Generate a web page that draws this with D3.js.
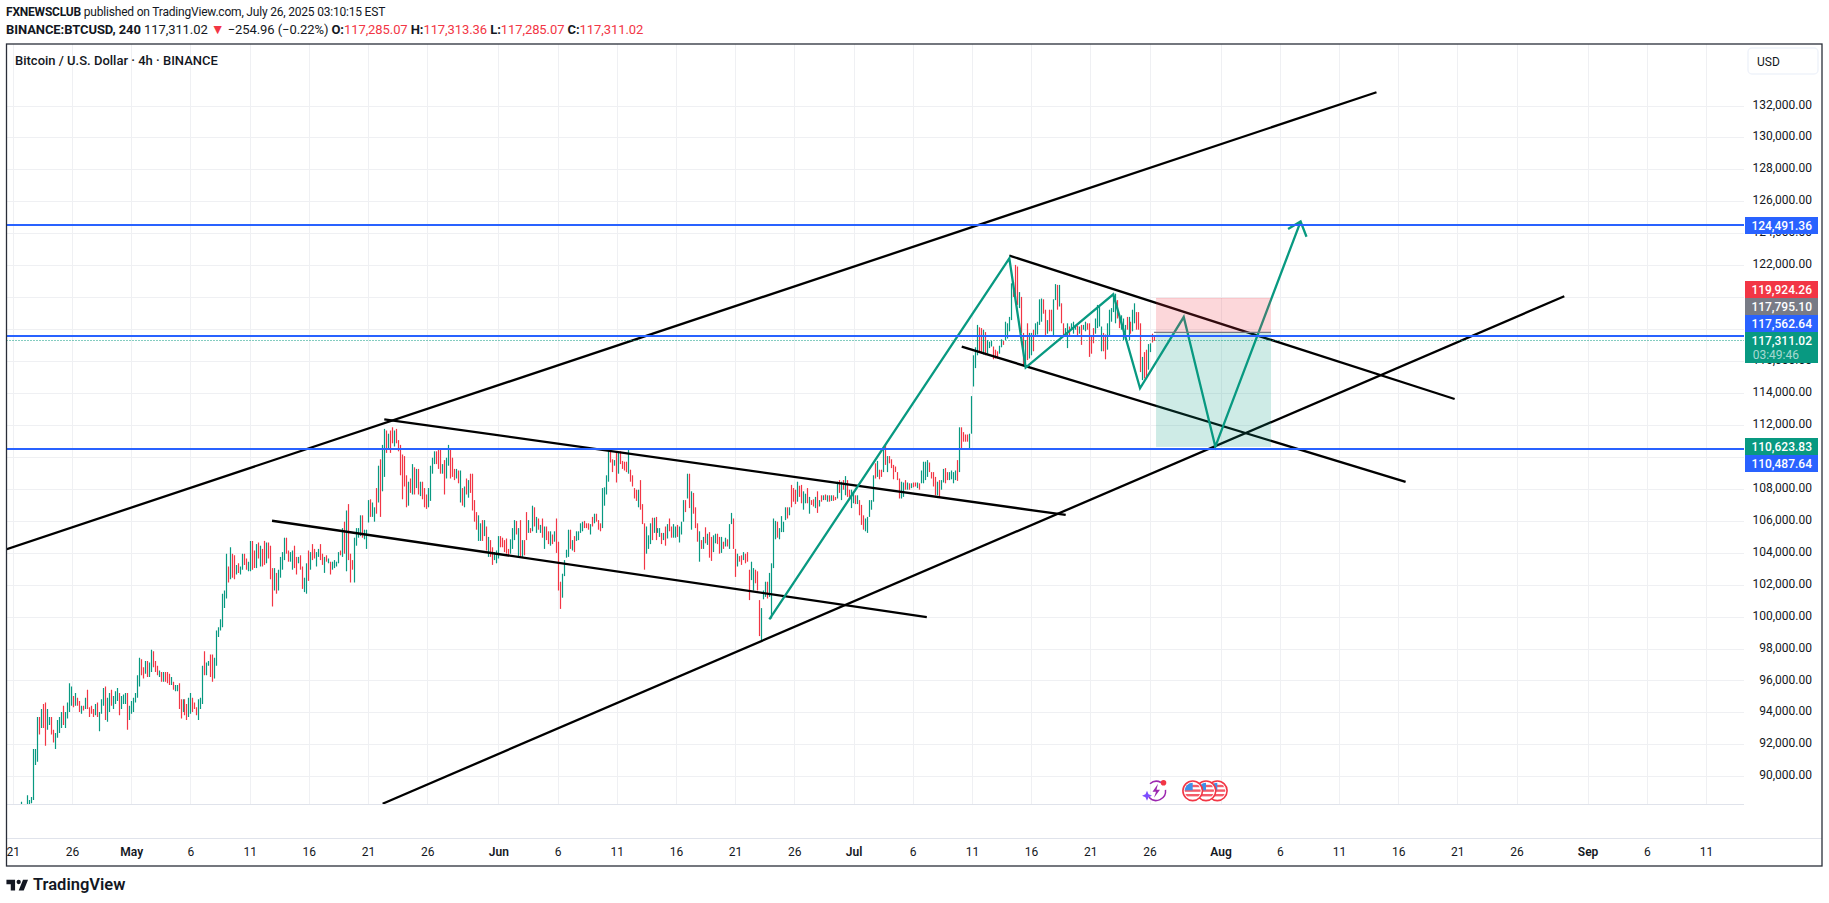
<!DOCTYPE html>
<html><head><meta charset="utf-8">
<script src="https://cdnjs.cloudflare.com/ajax/libs/d3/7.8.5/d3.min.js"></script>
<style>
html,body{margin:0;padding:0;background:#fff;overflow:hidden}
svg{display:block}
text{font-family:Roboto,"Noto Sans",sans-serif}
</style></head><body><svg id="c" width="1829" height="903"></svg>
<script>
// ---------- data: 4h BTC/USD bars, in thousand USD ----------
const firstBar = "2025-04-21T00:00:00Z";
const lastBar = "2025-07-26T10:00:00Z";
const barHighs = [
87.4,87.7,88.0,88.2,
88.5,88.3,88.3,88.9,88.6,88.8,91.8,91.8,93.8,93.8,94.3,94.6,94.7,94.3,93.8,93.8,93.0,92.8,93.6,93.8,94.1,94.5,94.1,94.7,95.9,95.7,95.1,95.3,95.0,94.8,94.5,94.5,95.0,95.5,94.4,94.5,94.3,94.6,94.7,94.1,94.9,95.6,95.7,95.0,95.3,95.5,95.1,95.4,95.6,95.3,95.1,95.2,95.3,95.3,94.5,94.8,95.0,95.3,96.4,97.5,97.4,96.9,97.3,97.3,97.2,98.0,97.9,97.3,97.0,96.7,96.6,96.6,96.6,96.6,96.5,96.3,96.0,95.8,95.8,95.9,94.9,94.9,94.9,94.6,95.0,95.3,95.0,94.7,
94.4,94.9,95.0,97.0,97.9,97.2,97.3,97.7,97.7,97.5,99.2,
99.4,99.9,101.5,101.7,104.0,103.2,104.4,104.0,103.9,103.3,103.4,103.2,104.0,104.0,103.7,103.5,104.8,104.8,104.2,104.6,104.7,104.5,104.3,104.8,104.7,104.7,104.5,103.1,103.1,102.8,103.0,103.8,104.1,105.0,105.0,104.2,104.1,104.2,104.5,103.8,103.8,103.9,103.2,102.5,103.4,104.2,104.1,104.6,104.3,104.1,104.3,104.6,104.0,103.8,103.9,103.7,103.5,103.5,103.6,103.5,104.1,104.2,105.6,106.0,106.7,107.1,104.0,103.6,105.0,105.6,105.6,106.4,106.4,105.5,105.5,
107.35,107.4,107.2,106.9,108.1,109.5,109.9,110.8,111.8,111.7,111.5,111.7,111.9,111.7,111.8,111.1,110.8,110.2,110.1,108.9,108.5,108.7,109.6,109.4,109.3,109.3,108.5,108.5,108.1,107.7,108.1,109.5,110.0,110.4,110.4,110.5,110.6,109.6,109.85,110.0,110.8,110.5,110.0,109.3,109.3,109.2,109.2,108.1,108.2,108.7,108.6,109.0,109.0,107.35,106.6,106.4,105.9,106.1,106.1,105.7,105.05,104.85,104.4,104.1,104.2,105.1,105.1,105.0,104.85,104.95,104.3,104.9,105.6,106.1,106.05,105.6,106.1,104.85,104.85,106.6,106.1,105.6,107.0,106.9,106.3,106.2,105.8,106.2,105.7,105.7,105.4,105.4,105.2,105.4,106.2,104.75,102.25,102.75,103.6,104.25,105.5,105.5,104.85,105.1,105.4,105.4,105.9,106.0,106.05,105.9,105.9,105.85,106.3,106.5,106.5,106.1,105.9,108.1,108.15,108.9,110.5,110.4,109.9,109.85,110.4,110.4,110.4,109.8,109.75,109.75,110.5,109.25,108.9,108.1,108.0,108.0,108.6,107.1,105.9,105.7,105.15,105.9,106.25,106.25,106.3,105.6,105.6,105.3,105.3,105.7,105.85,106.2,105.7,105.85,105.7,105.8,105.7,106.0,107.35,107.35,109.0,109.0,107.9,107.8,106.9,105.9,105.4,104.85,105.05,105.65,105.25,105.35,105.05,105.15,105.25,105.25,105.05,105.05,104.75,105.0,104.9,105.85,106.55,106.2,104.3,104.0,103.85,103.9,104.1,104.0,104.1,103.0,103.5,103.1,103.0,102.9,101.1,100.6,101.7,102.25,102.25,102.8,103.4,106.2,106.05,106.0,105.6,106.35,106.0,106.9,106.9,106.9,108.3,108.1,108.0,108.5,108.25,108.3,107.9,107.75,108.1,107.55,107.35,107.4,107.55,107.9,107.35,107.65,107.65,107.7,107.65,107.65,
107.65,107.65,107.55,108.5,108.6,108.5,108.6,108.85,108.6,108.0,108.0,107.9,107.65,107.65,107.35,107.05,106.4,106.2,106.3,107.35,107.35,108.9,109.65,109.8,109.25,109.25,110.5,110.8,110.1,110.1,109.9,109.55,109.45,109.1,108.7,108.5,108.45,108.6,108.45,108.4,108.4,108.45,108.45,108.45,108.4,109.2,109.75,109.75,109.85,109.7,109.1,109.1,108.8,108.5,108.6,108.6,109.3,109.35,109.1,109.1,109.2,109.1,109.2,109.85,111.9,
111.9,111.6,111.45,111.45,111.5,113.85,116.4,
116.9,118.3,118.15,118.1,118.0,117.85,117.35,117.25,117.3,116.95,116.75,116.65,117.0,117.4,117.3,118.5,118.4,118.8,120.9,121.0,122.05,121.95,120.35,120.05,117.8,117.35,118.4,117.8,117.8,118.0,118.4,118.5,119.9,119.95,119.9,119.25,118.6,119.25,119.25,119.9,120.85,120.8,120.8,119.65,118.4,118.1,118.4,118.2,118.4,118.5,118.3,118.25,118.2,118.3,118.3,118.5,118.4,118.4,117.65,118.1,118.7,119.55,119.45,118.2,117.8,117.7,118.4,119.25,119.35,120.15,120.25,119.85,118.9,118.9,118.7,118.3,118.8,118.8,118.5,119.25,119.65,119.1,119.1,
118.4,116.3,116.6,116.75,117.1,117.15,117.75,117.6];
const barLows = [
86.8,87.2,87.5,87.6,
88.0,87.8,87.9,88.0,88.3,88.4,88.6,90.8,91.0,92.7,93.1,93.1,92.0,93.0,93.3,92.7,92.2,91.8,92.5,92.8,93.1,93.3,93.1,93.7,94.1,94.5,94.4,94.5,94.5,94.1,94.0,94.2,94.3,94.3,93.8,94.0,93.8,93.9,93.8,92.9,94.0,94.5,93.6,93.5,94.1,94.5,94.3,94.6,94.8,93.9,94.3,94.6,94.6,93.0,93.6,94.0,94.1,94.7,95.0,95.7,96.4,96.2,96.5,96.3,96.3,96.6,96.9,96.6,96.4,96.3,96.0,96.0,96.0,95.9,95.8,95.8,95.5,95.4,95.4,94.3,93.7,94.1,93.9,93.6,93.8,94.0,94.1,94.3,
93.9,93.6,94.3,94.6,96.4,96.4,97.0,96.3,96.0,96.2,97.0,
98.8,99.2,99.4,100.6,101.2,102.2,102.4,102.5,102.4,102.7,102.8,102.7,103.0,103.3,103.0,102.9,102.9,103.0,103.1,103.1,103.7,103.2,103.2,103.3,103.4,103.7,102.4,100.7,101.7,101.5,101.7,102.5,103.0,103.6,104.0,103.5,103.5,103.0,103.1,102.7,103.4,103.0,101.8,101.6,101.5,102.3,103.0,103.6,103.7,103.2,103.8,103.6,103.3,102.8,103.5,103.4,102.7,103.0,103.1,103.2,103.4,103.9,103.8,104.0,102.9,103.6,102.2,103.0,102.2,104.5,105.0,105.1,105.0,104.9,104.3,
105.95,106.3,106.3,106.0,106.5,107.2,106.3,107.9,108.8,110.3,110.5,110.3,110.9,110.7,110.9,110.4,108.9,107.4,108.2,106.9,107.0,107.8,107.7,107.7,108.1,107.7,107.6,107.4,106.9,106.8,106.9,107.3,109.0,109.6,109.6,109.3,109.0,109.0,107.7,108.7,109.5,108.7,108.8,108.6,108.7,108.4,107.2,107.0,106.9,107.7,107.5,107.8,106.7,106.0,105.5,104.8,104.8,104.8,105.1,104.2,103.8,103.8,103.3,103.6,103.4,103.7,104.4,104.4,104.1,104.0,103.9,104.0,104.3,104.85,105.2,103.8,103.8,103.8,103.9,104.85,105.3,105.3,105.4,105.7,105.3,105.5,105.3,105.0,104.3,104.85,104.6,104.5,104.6,104.75,104.05,101.7,100.55,101.25,102.6,103.75,103.8,104.3,104.2,104.1,104.8,104.85,105.3,105.4,105.6,105.6,105.5,105.2,105.7,105.9,106.0,105.5,105.4,105.6,107.0,107.7,108.5,109.7,109.1,109.5,108.45,109.0,109.6,109.3,109.2,109.1,109.0,108.5,108.2,107.45,107.3,106.9,106.75,105.85,103.0,104.0,104.3,104.6,104.85,105.3,104.85,105.3,105.05,104.6,104.85,104.5,104.95,105.4,105.0,105.0,105.0,105.05,104.7,105.2,106.0,106.6,107.45,106.85,105.5,106.5,105.6,104.75,103.5,104.3,104.3,104.65,104.55,103.75,103.55,104.1,104.65,104.6,104.0,104.05,104.3,104.45,104.45,104.3,105.85,104.3,102.55,103.2,103.5,103.3,103.6,103.4,103.5,101.1,102.35,101.7,102.15,101.7,98.85,98.6,101.15,101.3,101.2,101.3,99.95,103.1,104.9,105.0,104.9,105.35,105.35,106.1,106.2,106.4,106.9,107.25,107.1,107.25,107.55,107.15,106.75,107.15,107.15,106.5,107.05,106.95,106.85,106.55,106.95,107.25,107.35,107.35,107.25,107.25,
107.3,107.3,107.35,107.45,107.8,107.35,108.0,107.65,107.55,107.35,106.85,107.15,107.1,107.1,106.4,105.8,105.5,105.4,105.3,106.3,106.75,107.25,108.7,108.8,108.65,108.8,109.1,109.55,109.1,109.65,109.35,108.65,109.1,108.6,107.45,107.45,107.55,108.0,108.0,108.0,108.1,108.15,108.2,108.1,108.0,108.4,108.4,108.6,108.8,109.1,108.7,108.2,107.65,107.65,107.55,108.0,108.45,108.4,108.6,108.6,108.65,108.4,108.6,108.55,109.1,
110.6,111.0,111.0,111.0,110.6,111.5,114.45,
115.6,116.4,116.6,116.5,116.45,116.4,116.5,116.85,116.95,116.15,116.2,116.2,116.5,116.9,117.05,117.35,117.45,117.9,118.6,120.05,119.95,119.55,119.35,117.8,115.8,115.8,116.1,116.2,116.4,116.65,117.55,117.7,118.3,118.5,119.0,117.65,117.75,117.9,117.9,117.65,119.85,119.25,119.45,118.4,117.65,117.65,116.85,117.55,118.0,117.75,118.0,117.65,117.75,117.05,118.0,117.9,118.0,116.3,116.5,117.15,117.75,118.1,118.2,116.65,116.65,116.15,116.75,117.65,118.5,119.1,118.4,118.7,118.1,118.0,117.35,117.45,118.0,117.35,117.75,117.9,118.4,118.0,118.0,
115.35,114.85,114.95,115.05,115.5,116.6,117.2,117.3];
// u = close above open, d = close below open
const dirsA = "dudu";
const dirsB = "uduuuuuuud"+"udduudduuu"+"uduuuududd"+"ududdddudu"+"uuduuduuud"+"uuuduuuuuu"+"dduduudddu"+"duddduduud"+"dudduudd";
const dirsC = "duuuduudduu";
const dirsD = "uuuuududdu"+"duudduuddu"+"duddudddud"+"uuuudduudd"+"udduududdu"+"uddududuuu"+"udududdduu"+"uuduu";
const dirsE = "uduududuud"+"uddudddddd"+"ududududdd"+"uuuudddudu"+"udddududud"+"udddduudud"+"udduuudddd"+"duuudududd"+"ududududud"+"dududdduuu"+"ududuuuudd"+"dududdduuu"+"uddududddd"+"uddddudddu"+"uududuudud"+"udduuduuud"+"ududddudud"+"udduuddudu"+"duudduddud"+"dduuddduuu"+"duuuuduuuu"+"dudddudduu"+"duddududud"+"ud";
const dirsF = "uddudududd"+"uududdduuu"+"uududdudud"+"ddddduudud"+"udduduuuud"+"ddduduuddu"+"uuudu";
const dirsG = "dddduuu"+"uudduduuud"+"dduuduuuud"+"ddudduduud"+"uuuudduddu"+"ududduuduu"+"ududuudddd"+"uuuudduuuu"+"udduuududu"+"udd"+"dudduudd";
const barDirections = (dirsA+dirsB+dirsC+dirsD+dirsE+dirsF+dirsG).split("");

const priceTicks = [90,92,94,96,98,100,102,104,106,108,110,112,114,116,118,120,122,124,126,128,130,132];
const ticksHiddenByTags = [110,118,120];
const timeTickDates = ["2025-04-21","2025-04-26","2025-05-01","2025-05-06","2025-05-11","2025-05-16","2025-05-21","2025-05-26","2025-06-01","2025-06-06","2025-06-11","2025-06-16","2025-06-21","2025-06-26","2025-07-01","2025-07-06","2025-07-11","2025-07-16","2025-07-21","2025-07-26","2025-08-01","2025-08-06","2025-08-11","2025-08-16","2025-08-21","2025-08-26","2025-09-01","2025-09-06","2025-09-11"];
const timeTickLabels = ["21","26","May","6","11","16","21","26","Jun","6","11","16","21","26","Jul","6","11","16","21","26","Aug","6","11","16","21","26","Sep","6","11"];

// drawings: [days after Apr 21, price in thousand USD]
const blackLines = [
 [[-0.58,104.27],[115.17,132.84]],
 [[31.23,88.375],[131.03,120.09]],
 [[31.37,112.4],[88.92,106.42]],
 [[21.89,106.06],[77.19,100.04]],
 [[84.16,122.63],[121.77,113.67]],
 [[80.14,116.94],[117.63,108.49]]];
const tealPath = [[63.89,99.9],[84.16,122.46],[85.54,115.63],[92.94,120.21],[95.2,114.34],[98.89,118.79],[101.56,110.69],[108.76,124.76]];
const tealArrow = [[107.7,124.29],[108.76,124.76],[109.26,123.81]];
const levelPrices = [124.49136,117.56264,110.48764];
const lastPrice = 117.31102;
const positionDays = [96.55,106.26];
const stopPrice = 119.92426, entryPrice = 117.7951, targetPrice = 110.62383;
const tagValues = [124491.36,119924.26,117795.10,117562.64,117311.02,110623.83,110487.64];
const tagColors = ["#2962ff","#f23645","#787b86","#2962ff","#089981","#089981","#2962ff"];
const countdown = "03:49:46";

// ---------- layout ----------
const frame = {l:6.5,t:44,r:1822,b:866}, plot = {r:1744,b:804}, axisB = 838;
const svg = d3.select("#c");
const day0 = new Date(firstBar);
const dayMs = 864e5;
const x = d3.scaleUtc().domain([day0,new Date("2025-09-11T00:00:00Z")]).range([12.86,1706]);
const y = d3.scaleLinear().domain([90,132]).range([776.3,105.5]);
// the bars and drawings were read against this slightly different grid estimate
const yRead = d3.scaleLinear().domain([90,132]).range([777.7,105.7]);
const xd = d => x(new Date(+day0 + d*dayMs));
const barTime = d3.scaleLinear().domain([0,barHighs.length-1]).range([+day0,+new Date(lastBar)]);
const ink = "#131722", up = "#089981", dn = "#f23645";
svg.append("defs").append("clipPath").attr("id","pl").append("rect")
  .attr("x",frame.l).attr("y",frame.t).attr("width",plot.r-frame.l).attr("height",plot.b-frame.t);
svg.select("defs").append("clipPath").attr("id","fr").append("rect")
  .attr("x",frame.l).attr("y",frame.t).attr("width",frame.r-frame.l).attr("height",frame.b-frame.t);
svg.select("defs").append("clipPath").attr("id","xc").append("rect")
  .attr("x",frame.l).attr("y",0).attr("width",frame.r-frame.l).attr("height",40);

// header
const h1 = svg.append("text").attr("x",6).attr("y",15.5).attr("font-size",12).attr("letter-spacing",-0.2).attr("fill",ink);
h1.append("tspan").attr("font-weight",700).text("FXNEWSCLUB");
h1.append("tspan").text(" published on TradingView.com, July 26, 2025 03:10:15 EST");
const h2 = svg.append("text").attr("x",6).attr("y",34).attr("font-size",13).attr("letter-spacing",-0.08).attr("fill",ink);
h2.append("tspan").attr("font-weight",700).text("BINANCE:BTCUSD, 240");
h2.append("tspan").text(" 117,311.02 ");
h2.append("tspan").attr("fill",dn).attr("font-size",14).text("▼");
h2.append("tspan").text(" −254.96 (−0.22%) ");
[["O:","117,285.07"],["H:","117,313.36"],["L:","117,285.07"],["C:","117,311.02"]].forEach(([k,v])=>{
  h2.append("tspan").attr("font-weight",700).text(k);
  h2.append("tspan").attr("fill",dn).text(v+" ");
});

// grid
const grid = svg.append("g").attr("stroke","#eff0f3").attr("stroke-width",1);
grid.selectAll(".gy").data(priceTicks).join("line")
  .attr("x1",frame.l).attr("x2",plot.r).attr("y1",d=>Math.round(y(d))+.5).attr("y2",d=>Math.round(y(d))+.5);
grid.selectAll(".gx").data(timeTickDates).join("line")
  .attr("x1",d=>Math.round(x(new Date(d)))+.5).attr("x2",d=>Math.round(x(new Date(d)))+.5).attr("y1",frame.t).attr("y2",plot.b)
  .attr("clip-path","url(#fr)");

// bars
const pl = svg.append("g").attr("clip-path","url(#pl)");
const barX = i => Math.round(x(new Date(barTime(i))))+.5;
pl.append("g").selectAll("line").data(barHighs).join("line")
  .attr("x1",(d,i)=>barX(i)).attr("x2",(d,i)=>barX(i))
  .attr("y1",d=>yRead(d)).attr("y2",(d,i)=>yRead(barLows[i]))
  .attr("stroke",(d,i)=>barDirections[i]==="u"?up:dn).attr("stroke-width",1.2);

// drawings
const line = d3.line().x(d=>xd(d[0])).y(d=>yRead(d[1]));
pl.append("g").selectAll("path").data(blackLines).join("path")
  .attr("d",line).attr("fill","none").attr("stroke","#000").attr("stroke-width",2.3);
pl.append("path").attr("d",line(tealPath)).attr("fill","none").attr("stroke","#089981").attr("stroke-width",2.3).attr("stroke-linejoin","miter");
pl.append("path").attr("d",line(tealArrow)).attr("fill","none").attr("stroke","#089981").attr("stroke-width",2.3);
// position tool
const px0 = xd(positionDays[0]), px1 = xd(positionDays[1]);
pl.append("rect").attr("x",px0).attr("width",px1-px0).attr("y",y(stopPrice)).attr("height",y(entryPrice)-y(stopPrice)).attr("fill","#f23645").attr("fill-opacity",.2);
pl.append("rect").attr("x",px0).attr("width",px1-px0).attr("y",y(entryPrice)).attr("height",y(targetPrice)-y(entryPrice)).attr("fill","#089981").attr("fill-opacity",.2);
pl.append("line").attr("x1",px0).attr("x2",px1).attr("y1",y(stopPrice)).attr("y2",y(stopPrice)).attr("stroke","#f23645").attr("stroke-opacity",.2);
pl.append("line").attr("x1",px0-2).attr("x2",px1).attr("y1",y(entryPrice)).attr("y2",y(entryPrice)).attr("stroke","#787b86").attr("stroke-width",1.2);
// levels
pl.append("g").selectAll("line").data(levelPrices).join("line")
  .attr("x1",frame.l).attr("x2",plot.r).attr("y1",d=>Math.round(y(d)-.4)).attr("y2",d=>Math.round(y(d)-.4)).attr("stroke","#2962ff").attr("stroke-width",2);
pl.append("line").attr("x1",frame.l).attr("x2",plot.r).attr("y1",Math.round(y(lastPrice))+.5).attr("y2",Math.round(y(lastPrice))+.5)
  .attr("stroke","#089981").attr("stroke-width",1).attr("stroke-dasharray","1 2");

// axes
svg.append("line").attr("x1",frame.l).attr("x2",plot.r).attr("y1",plot.b+.5).attr("y2",plot.b+.5).attr("stroke","#e0e3eb");
svg.append("line").attr("x1",frame.l).attr("x2",frame.r).attr("y1",axisB+.5).attr("y2",axisB+.5).attr("stroke","#e0e3eb");
const yAxis = svg.append("g").attr("transform",`translate(${plot.r},-1.3)`)
  .call(d3.axisRight(y).tickValues(priceTicks.filter(t=>!ticksHiddenByTags.includes(t))).tickFormat(d=>d3.format(",.2f")(d*1000)).tickSize(0));
yAxis.select(".domain").remove();
yAxis.selectAll("text").attr("x",68).attr("text-anchor","end").attr("font-size",12).attr("font-family","Roboto").attr("fill",ink);
const labelOf = new Map(timeTickDates.map((d,i)=>[+new Date(d),timeTickLabels[i]]));
const xAxis = svg.append("g").attr("transform",`translate(0,${axisB})`).attr("clip-path","url(#xc)")
  .call(d3.axisBottom(x).tickValues(timeTickDates.map(d=>new Date(d))).tickFormat(d=>labelOf.get(+d)).tickSize(0));
xAxis.select(".domain").remove();
xAxis.selectAll("text").attr("y",9).attr("font-size",12).attr("font-family","Roboto").attr("fill",ink)
  .attr("font-weight",function(){return /[A-Z]/.test(this.textContent)?600:400;});

// price tags
const tagTops = [217,281,298,315,332,438,455], tagH = [17,17,17,17,31,17,17];
const tags = svg.append("g");
tagValues.forEach((v,i)=>{
  tags.append("rect").attr("x",1745).attr("y",tagTops[i]).attr("width",73).attr("height",tagH[i]).attr("fill",tagColors[i]);
  tags.append("text").attr("x",1812).attr("y",tagTops[i]+12.7).attr("text-anchor","end")
    .attr("font-size",12).attr("font-weight",500).attr("fill","#fff").text(d3.format(",.2f")(v));
});
tags.append("text").attr("x",1752.7).attr("y",tagTops[4]+27).attr("font-size",12).attr("fill","#fff").attr("fill-opacity",.65).text(countdown);

// currency button
svg.append("rect").attr("x",1748).attr("y",48).attr("width",70).attr("height",26).attr("rx",4).attr("fill","#fff").attr("stroke","#f0f3fa").attr("stroke-width",1.5);
svg.append("text").attr("x",1757).attr("y",66).attr("font-size",12).attr("fill",ink).text("USD");

// frame and title
svg.append("rect").attr("x",frame.l).attr("y",frame.t).attr("width",frame.r-frame.l).attr("height",frame.b-frame.t)
  .attr("fill","none").attr("stroke","#2a2e39").attr("stroke-width",1.3);
svg.append("text").attr("x",15).attr("y",65).attr("font-size",13).attr("font-weight",500).attr("fill",ink).text("Bitcoin / U.S. Dollar · 4h · BINANCE");

// event icons
const ev = svg.append("g");
const flag = ev.append("defs");
[1217.3,1206,1192.7].forEach((cx,k)=>{
  const g = ev.append("g").attr("transform",`translate(${cx},790.8)`);
  flag.append("clipPath").attr("id","fl"+k).append("circle").attr("r",8);
  g.append("circle").attr("r",9.8).attr("fill","#fff").attr("stroke","#f23645").attr("stroke-width",1.6);
  const inner = g.append("g").attr("clip-path",`url(#fl${k})`);
  inner.append("rect").attr("x",-9).attr("y",-9).attr("width",18).attr("height",18).attr("fill","#fff");
  [-6,-1.4,3.2].forEach(s=>inner.append("rect").attr("x",-9).attr("y",s).attr("width",18).attr("height",2.4).attr("fill","#f45b69"));
  inner.append("rect").attr("x",-9).attr("y",-9).attr("width",9).attr("height",8.5).attr("fill","#3f8fe8");
});
const le = ev.append("g").attr("transform","translate(1156,790.8)");
le.append("path").attr("d","M-6,-7 A9.5,9.5 0 0 1 5,-8.3 M9.5,-1 A9.5,9.5 0 0 1 -7,6.5").attr("fill","none").attr("stroke","#9c27b0").attr("stroke-width",1.5);
le.append("path").attr("d","M2,-7 L-3.5,1 L0,1 L-2,7 L4,-1 L0.5,-1 Z").attr("fill","#9c27b0");
le.append("path").attr("d","M-9,0 L-7.5,3.5 L-4,5 L-7.5,6.5 L-9,10 L-10.5,6.5 L-14,5 L-10.5,3.5 Z").attr("fill","#7c4dff");
le.append("circle").attr("cx",7.5).attr("cy",-8).attr("r",2.8).attr("fill","#f23645");

// logo
const logo = svg.append("g").attr("transform","translate(5,875.5) scale(.72)");
logo.append("path").attr("fill",ink).attr("d","M14 6H2v6h6v9h6V6Zm12 15h-7l6-15h7l-6 15Zm-7-9a3 3 0 1 0 0-6 3 3 0 0 0 0 6Z");
svg.append("text").attr("x",33).attr("y",890).attr("font-size",16.5).attr("font-weight",600).attr("fill",ink).text("TradingView");
</script>
</body></html>
